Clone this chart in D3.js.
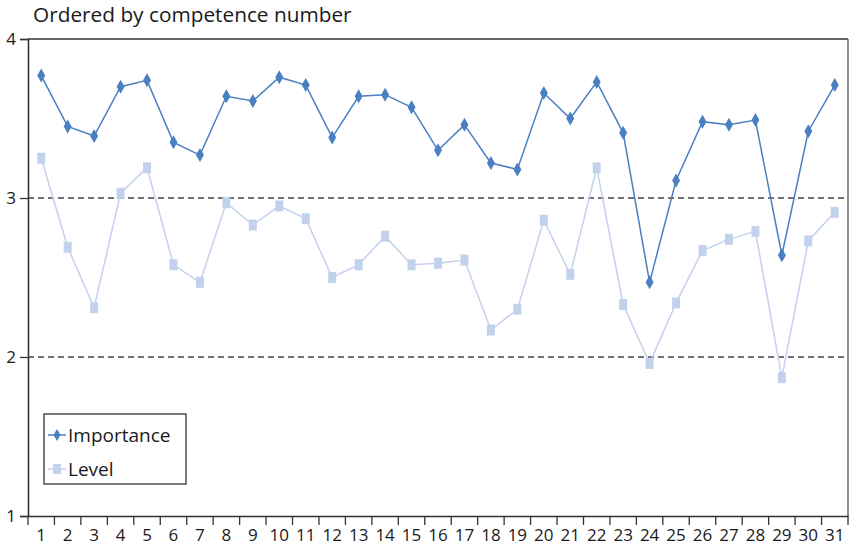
<!DOCTYPE html>
<html>
<head>
<meta charset="utf-8">
<script src="https://cdn.jsdelivr.net/npm/d3@7"></script>
<style>
  body { margin: 0; background: #fff; }
  text { font-family: "Open Sans", "Noto Sans", sans-serif; fill: #1a1a1a; }
</style>
</head>
<body>
<svg id="chart" width="851" height="549"></svg>
<script>
const competences = d3.range(1, 32).map(String);
const importance = [3.77, 3.45, 3.39, 3.70, 3.74, 3.35, 3.27, 3.64, 3.61, 3.76,
                    3.71, 3.38, 3.64, 3.65, 3.57, 3.30, 3.46, 3.22, 3.18, 3.66,
                    3.50, 3.73, 3.41, 2.47, 3.11, 3.48, 3.46, 3.49, 2.64, 3.42, 3.71];
const level = [3.25, 2.69, 2.31, 3.03, 3.19, 2.58, 2.47, 2.97, 2.83, 2.95,
               2.87, 2.50, 2.58, 2.76, 2.58, 2.59, 2.61, 2.17, 2.30, 2.86,
               2.52, 3.19, 2.33, 1.96, 2.34, 2.67, 2.74, 2.79, 1.87, 2.73, 2.91];
const yTicks = [1, 2, 3, 4];
const gridValues = [2, 3];
const title = 'Ordered by competence number';

const svg = d3.select('#chart');
const margins = {top: 39, right: 3, bottom: 33, left: 28};
const width = 851 - margins.left - margins.right,
    height = 549 - margins.top - margins.bottom;

const chart = svg.append('g')
    .attr('transform', 'translate(' + margins.left + ',' + margins.top + ')');

const xScale = d3.scaleBand().domain(competences).range([0, width]);
const yScale = d3.scaleLinear().domain([1, 4]).range([height, 0]);
const cx = (d, i) => xScale(competences[i]) + xScale.bandwidth() / 2;

svg.append('text')
    .attr('x', 33)
    .attr('y', 22)
    .style('font-size', '20.8px')
    .text(title);

// frame top / right
chart.append('line').attr('x1', 0).attr('x2', width).attr('y1', 0).attr('y2', 0)
    .attr('stroke', '#333').attr('stroke-width', 1.3);
chart.append('line').attr('x1', width).attr('x2', width).attr('y1', 0).attr('y2', height)
    .attr('stroke', '#555').attr('stroke-width', 1.3);

chart.selectAll('.grid')
    .data(gridValues)
    .enter().append('line')
    .attr('x1', 0).attr('x2', width)
    .attr('y1', d => yScale(d)).attr('y2', d => yScale(d))
    .attr('stroke', '#444')
    .attr('stroke-width', 1.3)
    .attr('stroke-dasharray', '6,4');

const yAxis = chart.append('g')
    .call(d3.axisLeft(yScale).tickValues(yTicks).tickFormat(d3.format('d')).tickSize(8).tickPadding(4));
yAxis.selectAll('text').style('font-size', '17px').attr('fill', '#333');

const xAxis = chart.append('g')
    .attr('transform', 'translate(0,' + height + ')')
    .call(d3.axisBottom(xScale).tickSize(0).tickPadding(13));
xAxis.selectAll('text').style('font-size', '17px').attr('fill', '#333');
xAxis.selectAll('.tick line').remove();
// tick marks at band edges
chart.append('g')
    .selectAll('line')
    .data(competences.concat(['end']))
    .enter().append('line')
    .attr('x1', (d, i) => i < competences.length ? xScale(d) : width)
    .attr('x2', (d, i) => i < competences.length ? xScale(d) : width)
    .attr('y1', height).attr('y2', height + 9)
    .attr('stroke', '#333').attr('stroke-width', 1.3);

svg.selectAll('.domain').attr('stroke', '#333').attr('stroke-width', 1.6);
svg.selectAll('.tick line').attr('stroke', '#333').attr('stroke-width', 1.3);

const line = d3.line().x(cx).y(d => yScale(d));

const levelColor = '#c3d2ec', impColor = '#4a80c2';

chart.append('path').datum(level)
    .attr('d', line).attr('fill', 'none')
    .attr('stroke', levelColor).attr('stroke-width', 1.5);
chart.selectAll('.lvl')
    .data(level)
    .enter().append('rect')
    .attr('x', (d, i) => cx(d, i) - 4)
    .attr('y', d => yScale(d) - 5.5)
    .attr('width', 8).attr('height', 11)
    .attr('fill', levelColor);

chart.append('path').datum(importance)
    .attr('d', line).attr('fill', 'none')
    .attr('stroke', impColor).attr('stroke-width', 1.5);
chart.selectAll('.imp')
    .data(importance)
    .enter().append('path')
    .attr('d', 'M0,-7L4,0L0,7L-4,0Z')
    .attr('transform', (d, i) => 'translate(' + cx(d, i) + ',' + yScale(d) + ')')
    .attr('fill', impColor);

// legend
const legend = svg.append('g').attr('transform', 'translate(44,414)');
legend.append('rect').attr('width', 142).attr('height', 70)
    .attr('fill', '#fff').attr('stroke', '#333').attr('stroke-width', 1.3);
const items = [{name: 'Importance', color: impColor, shape: 'diamond'},
               {name: 'Level', color: levelColor, shape: 'square'}];
const row = legend.selectAll('.item').data(items).enter().append('g')
    .attr('transform', (d, i) => 'translate(0,' + (21 + i * 34) + ')');
row.append('line').attr('x1', 4).attr('x2', 22).attr('y1', 0).attr('y2', 0)
    .attr('stroke', d => d.color).attr('stroke-width', 1.5);
row.append('path')
    .attr('d', d => d.shape === 'diamond' ? 'M0,-6L3.5,0L0,6L-3.5,0Z' : 'M-4,-5H4V5H-4Z')
    .attr('transform', 'translate(13,0)')
    .attr('fill', d => d.color);
row.append('text').attr('x', 24).attr('y', 0).attr('dy', '0.35em')
    .style('font-size', '19px').text(d => d.name);
</script>
</body>
</html>
